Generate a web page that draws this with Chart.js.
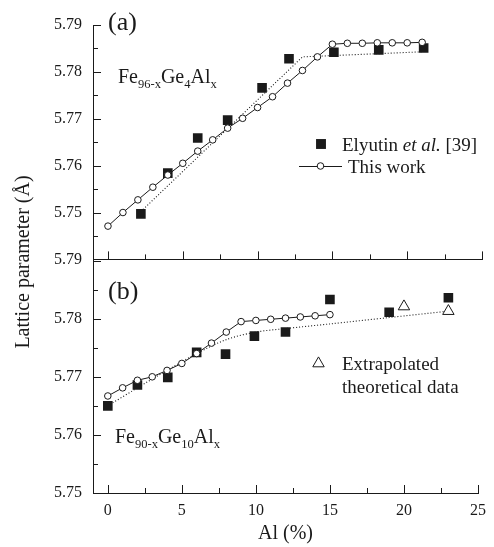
<!DOCTYPE html>
<html>
<head>
<meta charset="utf-8">
<script src="https://cdn.jsdelivr.net/npm/chart.js@4.4.1/dist/chart.umd.min.js"></script>
<style>
  html, body { margin: 0; padding: 0; background: #fff; }
  #wrap { position: relative; width: 494px; height: 547px; overflow: hidden;
          font-family: 'Liberation Serif', 'Times New Roman', serif; color: #1a1a1a; }
  #wrap canvas { position: absolute; left: 0; }
  .t { position: absolute; white-space: nowrap; line-height: 1; }
  .t sub { font-size: 12.5px; vertical-align: baseline; position: relative; top: 5px; line-height: 0; }
  #ytitle { left: -128px; top: 250px; width: 300px; height: 24px; line-height: 24px;
            text-align: center; font-size: 20px; transform: rotate(-90deg); }
</style>
</head>
<body>
<div id="wrap">
  <canvas id="panelA" width="494" height="280" style="top:0"></canvas>
  <canvas id="panelB" width="494" height="307" style="top:240px"></canvas>

  <div class="t" style="left:108px;top:9px;font-size:26px">(a)</div>
  <div class="t" style="left:118px;top:66px;font-size:20px">Fe<sub>96-x</sub>Ge<sub>4</sub>Al<sub>x</sub></div>
  <div class="t" style="left:342px;top:135px;font-size:19px">Elyutin <i>et al.</i> [39]</div>
  <div class="t" style="left:348px;top:157px;font-size:19px">This work</div>

  <div class="t" style="left:108px;top:278px;font-size:26px">(b)</div>
  <div class="t" style="left:115px;top:426px;font-size:20px">Fe<sub>90-x</sub>Ge<sub>10</sub>Al<sub>x</sub></div>
  <div class="t" style="left:342px;top:354px;font-size:19px">Extrapolated</div>
  <div class="t" style="left:342px;top:377px;font-size:19px">theoretical data</div>

  <div class="t" id="ytitle">Lattice parameter (Å)</div>
</div>

<script>
'use strict';

const INK = '#1a1a1a';
const FONT = "'Liberation Serif', 'Times New Roman', serif";

/* ── shared x axis ───────────────────────────────────────────────────── */
const xMajor = [0, 5, 10, 15, 20, 25];
const xMinor = [2.5, 7.5, 12.5, 17.5, 22.5];

/* ── panel (a): Fe96-xGe4Alx ─────────────────────────────────────────── */
const alWorkA = [0, 1, 2, 3, 4, 5, 6, 7, 8, 9, 10, 11, 12, 13, 14, 15, 16, 17, 18, 19, 20, 21];
const workA = [5.7471, 5.7500, 5.7527, 5.7554, 5.7580, 5.7605, 5.7631, 5.7655, 5.7680, 5.7701, 5.7724,
               5.7747, 5.7776, 5.7803, 5.7832, 5.7859, 5.7861, 5.7861, 5.7862, 5.7862, 5.7862, 5.7863];
const alExpA = [2.2, 4, 6, 8, 10.3, 12.1, 15.1, 18.1, 21.1];
const expA = [5.7497, 5.7584, 5.7659, 5.7697, 5.7766, 5.7828, 5.7842, 5.7847, 5.7851];
const alFitA = [2.2, 13.0, 21.1];
const fitA = [5.7502, 5.7832, 5.7843];
const yTicksA = [5.74, 5.75, 5.76, 5.77, 5.78, 5.79];
const yLabelsA = ['5.79', '5.75', '5.76', '5.77', '5.78', '5.79'];
const yMinorA = [5.745, 5.755, 5.765, 5.775, 5.785];

/* ── panel (b): Fe90-xGe10Alx ────────────────────────────────────────── */
const alWorkB = [0, 1, 2, 3, 4, 5, 6, 7, 8, 9, 10, 11, 12, 13, 14, 15];
const workB = [5.7667, 5.7681, 5.7694, 5.7700, 5.7711, 5.7723, 5.7740, 5.7758,
               5.7777, 5.7795, 5.7797, 5.7799, 5.7801, 5.7803, 5.7805, 5.7807];
const alExpB = [0, 2, 4.05, 6, 7.95, 9.9, 12, 15, 19, 23];
const expB = [5.7650, 5.7686, 5.7699, 5.7742, 5.7739, 5.7770, 5.7777, 5.7833, 5.7811, 5.7836];
const alTheoB = [20, 23];
const theoB = [5.7821, 5.7813];
const alFitB = [0, 2, 4, 6, 8, 10, 12, 15, 19, 23];
const fitB = [5.7650, 5.7681, 5.7711, 5.7740, 5.7764, 5.7777, 5.7783, 5.7791, 5.7802, 5.7813];
const yTicksB = [5.75, 5.76, 5.77, 5.78];
const yLabelsB = ['5.75', '5.76', '5.77', '5.78'];
const yMajorB = [5.75, 5.76, 5.77, 5.78, 5.79];
const yMinorB = [5.755, 5.765, 5.775, 5.785];

const pts = (xs, ys) => xs.map((x, i) => ({ x, y: ys[i] }));

/* ── inward tick marks (the figure has ticks pointing into the plot) ── */
const inwardTicks = {
    id: 'inwardTicks',
    afterDraw(chart, args, opts) {
        const { ctx, chartArea: a, scales: { x, y } } = chart;
        const hx = v => Math.round(x.getPixelForValue(v)) + 0.5;
        const hy = v => Math.round(y.getPixelForValue(v)) + 0.5;
        ctx.save();
        ctx.strokeStyle = INK;
        ctx.lineWidth = 1;
        ctx.beginPath();
        xMajor.forEach(v => { ctx.moveTo(hx(v), a.bottom); ctx.lineTo(hx(v), a.bottom - 8); });
        xMinor.forEach(v => { ctx.moveTo(hx(v), a.bottom); ctx.lineTo(hx(v), a.bottom - 5); });
        opts.yMajor.forEach(v => { ctx.moveTo(a.left, hy(v)); ctx.lineTo(a.left + 8, hy(v)); });
        opts.yMinor.forEach(v => { ctx.moveTo(a.left, hy(v)); ctx.lineTo(a.left + 5, hy(v)); });
        ctx.stroke();
        ctx.restore();
    },
};

/* ── legend symbols, drawn next to the html legend text ─────────────── */
const legendMarks = {
    id: 'legendMarks',
    afterDraw(chart, args, opts) {
        const ctx = chart.ctx;
        ctx.save();
        ctx.strokeStyle = INK;
        ctx.lineWidth = 1;
        opts.items.forEach(it => {
            const y = it.y - opts.offset;
            if (it.line) {
                ctx.beginPath();
                ctx.moveTo(it.line[0], y + 0.5);
                ctx.lineTo(it.line[1], y + 0.5);
                ctx.stroke();
            }
            ctx.fillStyle = it.fill;
            Chart.helpers.drawPoint(ctx, { pointStyle: it.style, radius: it.r, borderWidth: it.stroke ? 1 : 0 }, it.x, y);
        });
        ctx.restore();
    },
};

function yScale(min, max, ticks, labels) {
    return {
        type: 'linear', min, max,
        afterFit: s => { s.width = 93; },
        afterBuildTicks: s => { s.ticks = ticks.map(v => ({ value: v })); },
        ticks: { callback: (v, i) => labels[i], padding: 11, color: INK, font: { family: FONT, size: 16 } },
        grid: { display: false, drawTicks: false },
        border: { display: true, color: INK, width: 1 },
    };
}

const workStyle = {
    showLine: true, borderColor: INK, borderWidth: 1,
    pointStyle: 'circle', pointRadius: 3.3, pointBackgroundColor: '#fff',
    pointBorderColor: INK, pointBorderWidth: 1,
};
const expStyle = {
    showLine: false, pointStyle: 'rect', pointRadius: 6.8,
    pointBackgroundColor: INK, pointBorderColor: INK, pointBorderWidth: 0,
};
const fitStyle = {
    showLine: true, borderColor: INK, borderWidth: 1.1, borderDash: [1, 2],
    pointRadius: 0,
};

/* ── panel (a) ───────────────────────────────────────────────────────── */
new Chart(document.getElementById('panelA'), {
    type: 'scatter',
    data: {
        datasets: [
            { label: 'This work', data: pts(alWorkA, workA), ...workStyle },
            { label: 'Elyutin et al. [39]', data: pts(alExpA, expA), ...expStyle },
            { label: 'fit', data: pts(alFitA, fitA), ...fitStyle },
        ],
    },
    options: {
        responsive: false,
        animation: false,
        layout: { padding: { top: 25, right: 12, bottom: 20, left: 0 } },
        plugins: {
            legend: { display: false },
            tooltip: { enabled: false },
            inwardTicks: { yMajor: yTicksA, yMinor: yMinorA },
            legendMarks: {
                offset: 0,
                items: [
                    { x: 321, y: 144, style: 'rect', r: 7, fill: INK, stroke: false },
                    { x: 320.5, y: 166, style: 'circle', r: 3.3, fill: '#fff', stroke: true, line: [299, 342] },
                ],
            },
        },
        scales: {
            x: {
                type: 'linear', min: -1, max: 25,
                afterFit: s => { s.height = 0; },
                ticks: { display: false },
                grid: { display: false, drawTicks: false },
                border: { display: true, color: INK, width: 1 },
            },
            y: yScale(5.74, 5.79, yTicksA, yLabelsA),
        },
    },
    plugins: [inwardTicks, legendMarks],
});

/* ── panel (b) ───────────────────────────────────────────────────────── */
new Chart(document.getElementById('panelB'), {
    type: 'scatter',
    data: {
        datasets: [
            { label: 'This work', data: pts(alWorkB, workB), ...workStyle },
            { label: 'Elyutin et al. [39]', data: pts(alExpB, expB), ...expStyle },
            {
                label: 'Extrapolated theoretical data', data: pts(alTheoB, theoB), showLine: false,
                pointStyle: 'triangle', pointRadius: 6.6, pointBackgroundColor: '#fff',
                pointBorderColor: INK, pointBorderWidth: 1,
            },
            { label: 'fit', data: pts(alFitB, fitB), ...fitStyle, tension: 0.3 },
        ],
    },
    options: {
        responsive: false,
        animation: false,
        layout: { padding: { top: 20, right: 12, bottom: 0, left: 0 } },
        plugins: {
            legend: { display: false },
            tooltip: { enabled: false },
            inwardTicks: { yMajor: yMajorB, yMinor: yMinorB },
            legendMarks: {
                offset: 240,
                items: [
                    { x: 318.5, y: 363.5, style: 'triangle', r: 6.6, fill: '#fff', stroke: true },
                ],
            },
        },
        scales: {
            x: {
                type: 'linear', min: -1, max: 25,
                afterFit: s => { s.height = 54; },
                afterBuildTicks: s => { s.ticks = xMajor.map(v => ({ value: v })); },
                ticks: { padding: 8, color: INK, font: { family: FONT, size: 16 }, maxRotation: 0 },
                grid: { display: false, drawTicks: false },
                border: { display: true, color: INK, width: 1 },
                title: {
                    display: true, text: 'Al (%)', color: INK,
                    font: { family: FONT, size: 20 }, padding: { top: 0, bottom: 1 },
                },
            },
            y: yScale(5.75, 5.79, yTicksB, yLabelsB),
        },
    },
    plugins: [inwardTicks, legendMarks],
});
</script>
</body>
</html>
